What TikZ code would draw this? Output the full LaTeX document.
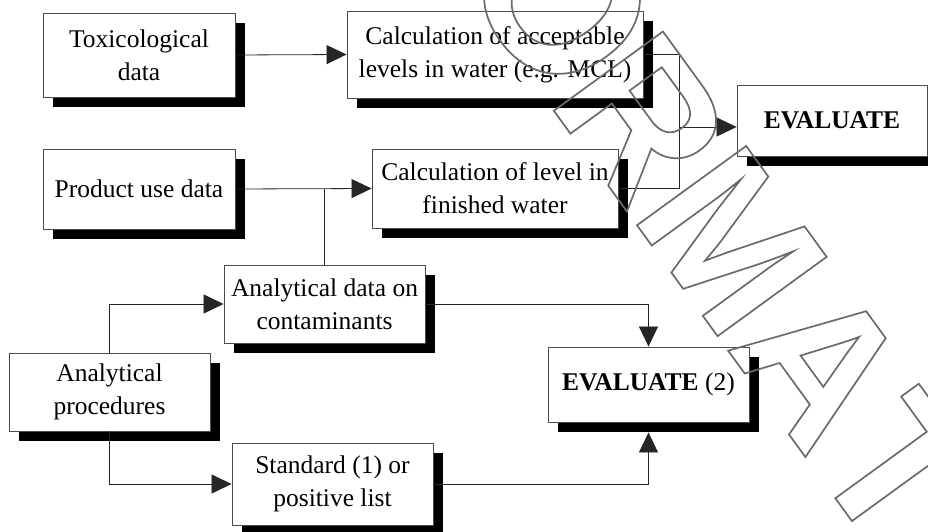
\documentclass[tikz,border=0pt]{standalone}
\usepackage{fontspec}
\setmainfont{Liberation Serif}
\newfontfamily\wmfamily{Liberation Sans}[Kerning=Off]
\usetikzlibrary{arrows.meta,shadows,calc}
\begin{document}
\begin{tikzpicture}[x=1pt,y=-1pt,
  box/.style={draw=black!70, line width=0.9pt, fill=white, align=center,
    font=\fontsize{25.5}{33}\selectfont, inner sep=0pt,
    drop shadow={shadow xshift=10pt, shadow yshift=-10pt, fill=black, opacity=1}},
  conn/.style={draw=black!85, line width=0.8pt},
  arr/.style={conn, -{Triangle[length=20pt,width=19pt]}},
  wm/.style={rotate=-54, inner sep=0pt, text=black!58,
    font=\wmfamily\bfseries\fontsize{196}{196}\selectfont}]
\useasboundingbox (0,0) rectangle (928,532);
\fill[white] (0,0) rectangle (928,532);
\clip (0,0) rectangle (928,532);

\node[box, minimum width=192pt, minimum height=84pt] (tox) at (139,55) {Toxicological\\data};
\node[box, minimum width=296pt, minimum height=87pt] (calcacc) at (495,54.5) {Calculation of acceptable\\levels in water (e.g. MCL)};
\node[box, minimum width=190pt, minimum height=71pt] (eval) at (832,120.5) {\textbf{EVALUATE}};
\node[box, minimum width=192pt, minimum height=80pt] (prod) at (139,189) {Product use data};
\node[box, minimum width=246pt, minimum height=79pt] (calclev) at (495,188.5) {Calculation of level in\\finished water};
\node[box, minimum width=201pt, minimum height=78pt] (anadata) at (324.5,304) {Analytical data on\\contaminants};
\node[box, minimum width=201pt, minimum height=78pt] (anaproc) at (109.5,392) {Analytical\\procedures};
\node[box, minimum width=201pt, minimum height=82pt] (std) at (332.5,484) {Standard (1) or\\positive list};
\node[box, minimum width=201pt, minimum height=75pt] (eval2) at (648.5,384.5) {\textbf{EVALUATE} (2)};

\coordinate (j1) at (679,127);
\draw[arr] (tox.east) -- (calcacc.west);
\draw[conn] (calcacc.east) -| (j1);
\draw[conn] (calclev.east) -| (j1);
\draw[arr] (j1) -- (eval.west |- j1);
\draw[arr] (prod.east) -- (calclev.west);
\draw[conn] (anadata.north) -- (anadata.north |- prod.east);
\draw[arr] (anaproc.north) |- (anadata.west);
\draw[arr] (anadata.east) -| (eval2.north);
\draw[arr] (anaproc.south) |- (std.west);
\draw[arr] (std.east) -| ($(eval2.south)+(0,10)$);

\node[wm, anchor=center, font=\wmfamily\bfseries\fontsize{214}{214}\selectfont] (wmo) at (562,-3) {\special{pdf:literal direct 1 Tr 1.7 w}O\special{pdf:literal direct 0 Tr}};
\node[wm, anchor=base west] (wmark) at (546,100) {\special{pdf:literal direct 1 Tr 1.7 w}RMAT\special{pdf:literal direct 0 Tr}};
\end{tikzpicture}
\end{document}
